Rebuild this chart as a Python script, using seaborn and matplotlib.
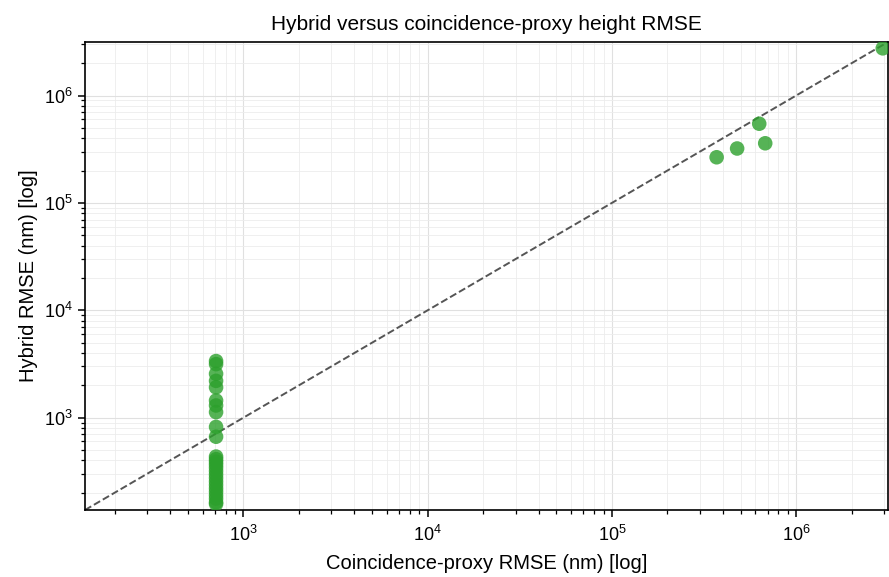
import numpy as np
import pandas as pd
import matplotlib
matplotlib.use("Agg")
import matplotlib.pyplot as plt
import seaborn as sns

# Coincidence-proxy RMSE (nm) and Hybrid RMSE (nm)
proxy_rmse = [710] * 26 + [3.70e5, 4.78e5, 6.30e5, 6.79e5, 2.95e6]
hybrid_rmse = [3365, 3150, 2560, 2200, 1914, 1443, 1298, 1126, 820, 664,
               434, 410, 388, 365, 342, 318, 295, 274, 254, 236, 219, 204,
               189, 176, 163, 157,
               2.66e5, 3.21e5, 5.46e5, 3.59e5, 2.75e6]
axis_lo, axis_hi = 138, 3.15e6

df = pd.DataFrame({"proxy": proxy_rmse, "hybrid": hybrid_rmse})

sns.set_theme(style="ticks")
plt.rcParams["font.family"] = ["Liberation Sans", "DejaVu Sans"]
plt.rcParams["mathtext.fontset"] = "custom"
plt.rcParams["mathtext.rm"] = "Liberation Sans"
plt.rcParams["mathtext.it"] = "Liberation Sans:italic"
plt.rcParams["mathtext.bf"] = "Liberation Sans:bold"
plt.rcParams["text.color"] = "black"
plt.rcParams["axes.labelcolor"] = "black"
plt.rcParams["xtick.color"] = "black"
plt.rcParams["ytick.color"] = "black"

fig = plt.figure(figsize=(8.89, 5.77), dpi=100)
ax = fig.add_axes([85 / 889, 1 - 510 / 577, (888 - 85) / 889, (510 - 42) / 577])

ax.plot([axis_lo, axis_hi], [axis_lo, axis_hi], ls="--", color="#555555", lw=1.4, zorder=1)
sns.scatterplot(data=df, x="proxy", y="hybrid", ax=ax, color="#2ca02c", s=110,
                alpha=0.8, edgecolor="none", zorder=3, legend=False)
ax.set_xscale("log")
ax.set_yscale("log")
ax.set_xlim(axis_lo, axis_hi)
ax.set_ylim(axis_lo, axis_hi)
ax.grid(True, which="major", color="#e0e0e0", lw=0.8)
ax.grid(True, which="minor", color="#ececec", lw=0.6)
ax.set_axisbelow(True)
ax.tick_params(axis="both", which="major", labelsize=13, length=5, width=1.1)
ax.tick_params(axis="x", which="major", pad=5.5)
ax.tick_params(axis="y", which="major", pad=4)
ax.tick_params(axis="both", which="minor", length=3, width=0.9)
for sp in ax.spines.values():
    sp.set_color("black")
    sp.set_linewidth(1.2)
ax.set_xlabel("Coincidence-proxy RMSE (nm) [log]", fontsize=14.5, labelpad=7)
ax.set_ylabel("Hybrid RMSE (nm) [log]", fontsize=14.5, labelpad=4)
ax.set_title("Hybrid versus coincidence-proxy height RMSE", fontsize=15, pad=9)

fig.savefig("out.png", dpi=100)
